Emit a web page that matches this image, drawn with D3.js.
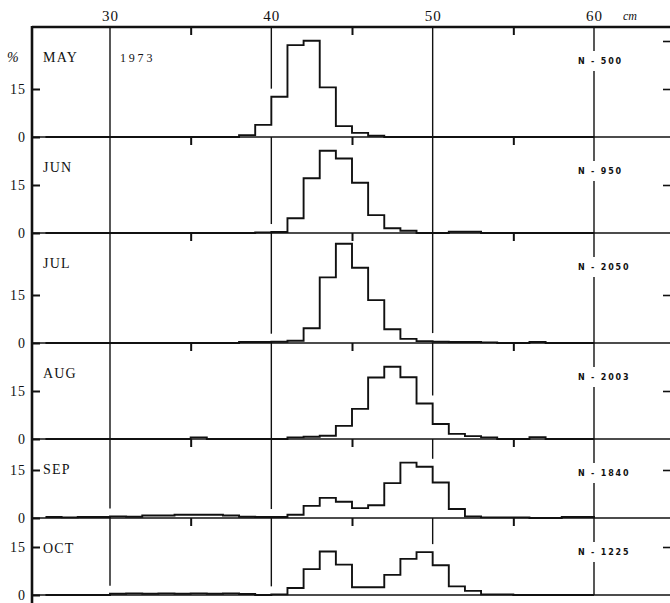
<!DOCTYPE html>
<html>
<head>
<meta charset="UTF-8">
<title>Length frequency 1973</title>
<script src="https://d3js.org/d3.v7.min.js"></script>
<style>
  body { margin: 0; background: #fff; }
  svg { display: block; background: #fff; }
  .serif { font-family: "Liberation Serif", "DejaVu Serif", serif; fill: #111; }
  .nlab { font-family: "DejaVu Sans", sans-serif; font-weight: bold; font-size: 8px; letter-spacing: 1.8px; fill: #111; }
  .axis text { font-family: "Liberation Serif", "DejaVu Serif", serif; fill: #111; }
</style>
</head>
<body>
<svg id="chart" width="670" height="603"></svg>
<script>
// ---- data ----
const months = ["MAY", "JUN", "JUL", "AUG", "SEP", "OCT"];
const nLabels = ["N - 500", "N - 950", "N - 2050", "N - 2003", "N - 1840", "N - 1225"];
const xTicks = [30, 40, 50, 60];
const minorTicks = [35, 45, 55];
const yTicks = [0, 15];

// 1 cm classes, lower bound of each class
const binStart = [26, 27, 28, 29, 30, 31, 32, 33, 34, 35, 36, 37, 38, 39, 40, 41, 42,
                  43, 44, 45, 46, 47, 48, 49, 50, 51, 52, 53, 54, 55, 56, 57, 58, 59];

// percent per class
const may = [0, 0, 0, 0, 0, 0, 0, 0, 0, 0, 0, 0, 0.6, 3.8, 12.6, 28.7, 30.1,
             15.5, 3.4, 1.3, 0.4, 0, 0, 0, 0, 0, 0, 0, 0, 0, 0, 0, 0, 0];
const jun = [0, 0, 0, 0, 0, 0, 0, 0, 0, 0, 0, 0, 0, 0.2, 0.3, 4.6, 17.1,
             25.7, 23.3, 15.7, 5.6, 1.5, 0.7, 0, 0, 0.4, 0.4, 0, 0, 0, 0, 0, 0, 0];
const jul = [0, 0, 0, 0, 0, 0, 0, 0, 0, 0, 0, 0, 0.3, 0.3, 0.4, 0.7, 4.6,
             20.5, 31.0, 23.5, 13.4, 4.3, 1.3, 0.6, 0.4, 0.3, 0.3, 0.2, 0, 0, 0.3, 0, 0, 0];
const aug = [0, 0, 0, 0, 0, 0, 0, 0, 0, 0.5, 0, 0, 0, 0, 0, 0.5, 0.7,
             1.0, 4.1, 9.4, 19.2, 22.6, 19.3, 11.1, 4.7, 1.6, 0.9, 0.5, 0, 0, 0.6, 0, 0, 0];
const sep = [0.3, 0.2, 0.3, 0.3, 0.5, 0.4, 0.8, 0.8, 1.0, 1.0, 1.0, 0.8, 0.4, 0.3, 0.3, 1.0, 3.8,
             6.3, 5.1, 3.1, 4.0, 10.9, 17.3, 16.0, 11.1, 2.8, 0.5, 0.2, 0.2, 0.2, 0, 0, 0.3, 0.3];
const oct = [0, 0, 0, 0, 0.4, 0.5, 0.4, 0.5, 0.4, 0.5, 0.4, 0.5, 0.3, 0, 0.2, 2.2, 8.1,
             13.6, 9.5, 2.4, 2.4, 6.3, 11.3, 13.4, 9.3, 2.7, 1.3, 0.2, 0.2, 0, 0, 0, 0, 0];
const series = [may, jun, jul, aug, sep, oct];

// ---- layout ----
const svg = d3.select("#chart");
const W = 670, H = 603;
const left = 32;
const panelEdges = [27, 137, 233, 343, 439, 518, 595]; // top border, then each panel's zero line
const pxPerPct = 3.2;

const x = d3.scaleLinear().domain([30, 60]).range([110, 594]);

// top axis labels
svg.append("g")
    .attr("class", "axis")
    .attr("transform", "translate(0,21)")
    .call(d3.axisTop(x).tickValues(xTicks).tickSize(0).tickPadding(0).tickFormat(d3.format("d")))
    .call(g => g.select(".domain").remove())
    .call(g => g.selectAll("text").attr("font-size", 15).attr("letter-spacing", 1));

svg.append("text").attr("class", "serif")
    .attr("x", 623).attr("y", 20)
    .attr("font-size", 12).attr("font-style", "italic")
    .text("cm");

svg.append("text").attr("class", "serif")
    .attr("x", 7).attr("y", 62)
    .attr("font-size", 14).attr("font-style", "italic")
    .text("%");

let line = d3.line().curve(d3.curveStepAfter);

months.forEach((m, i) => {
    let top = panelEdges[i];
    let base = panelEdges[i + 1];
    let vals = series[i];
    let y = d3.scaleLinear().domain([0, (base - top) / pxPerPct]).range([base, top]);

    let g = svg.append("g").attr("class", "panel");

    // vertical reference lines; they stop short of the histogram like in the print
    xTicks.forEach(t => {
        let y2 = base;
        if (t < 60) {
            let k = binStart.indexOf(t);
            let near = Math.max(vals[k - 1] || 0, vals[k] || 0);
            if (near > 0) y2 = y(near) - 8;
        }
        g.append("line")
            .attr("x1", x(t)).attr("x2", x(t))
            .attr("y1", top).attr("y2", y2)
            .attr("stroke", "#111").attr("stroke-width", 1.4);
    });

    // minor ticks hanging from the panel top
    g.append("g")
        .attr("transform", `translate(0,${top})`)
        .call(d3.axisBottom(x).tickValues(minorTicks).tickSize(8).tickFormat(""))
        .call(a => a.select(".domain").remove())
        .call(a => a.selectAll("line").attr("stroke", "#111").attr("stroke-width", 2));

    // left axis ticks and labels
    g.append("g")
        .attr("class", "axis")
        .attr("transform", `translate(${left},0)`)
        .call(d3.axisLeft(y).tickValues(yTicks).tickSize(-8).tickPadding(6).tickFormat(d3.format("d")))
        .call(a => a.select(".domain").remove())
        .call(a => a.selectAll("line").attr("stroke", "#111").attr("stroke-width", 2))
        .call(a => a.selectAll("text").attr("font-size", 14).attr("letter-spacing", 1));

    // right edge ticks
    g.append("g")
        .attr("transform", `translate(${W},0)`)
        .call(d3.axisRight(y).tickValues(i === 0 ? [15, 30] : [15]).tickSize(-7).tickFormat(""))
        .call(a => a.select(".domain").remove())
        .call(a => a.selectAll("line").attr("stroke", "#111").attr("stroke-width", 1.6));

    // zero line
    g.append("line")
        .attr("x1", left).attr("x2", W)
        .attr("y1", base).attr("y2", base)
        .attr("stroke", "#111").attr("stroke-width", 1.6);

    // histogram outline
    let pts = binStart.map((b, k) => [x(b), y(vals[k])]);
    pts.push([x(60), y(0)]);
    g.append("path")
        .attr("d", line(pts))
        .attr("fill", "none")
        .attr("stroke", "#111")
        .attr("stroke-width", 1.9);

    // month label
    g.append("text").attr("class", "serif")
        .attr("x", 43).attr("y", top + 35)
        .attr("font-size", 14).attr("letter-spacing", 1.2)
        .text(m);

    // N label over the 60 line
    let ny = top + 34;
    let nt = g.append("text").attr("class", "nlab")
        .attr("x", 578).attr("y", ny)
        .attr("dominant-baseline", "middle")
        .text(nLabels[i]);
    let bb = nt.node().getBBox();
    g.insert("rect", "text.nlab")
        .attr("x", bb.x - 2).attr("y", ny - 10)
        .attr("width", bb.width + 4).attr("height", 20)
        .attr("fill", "#fff");
});

svg.append("text").attr("class", "serif")
    .attr("x", 120).attr("y", 62)
    .attr("font-size", 12).attr("letter-spacing", 2.8)
    .text("1973");

// frame: top border and left border
svg.append("line")
    .attr("x1", left).attr("x2", W).attr("y1", panelEdges[0]).attr("y2", panelEdges[0])
    .attr("stroke", "#111").attr("stroke-width", 2.4);
svg.append("line")
    .attr("x1", left).attr("x2", left).attr("y1", panelEdges[0] - 1).attr("y2", H)
    .attr("stroke", "#111").attr("stroke-width", 2.6);
</script>
</body>
</html>
